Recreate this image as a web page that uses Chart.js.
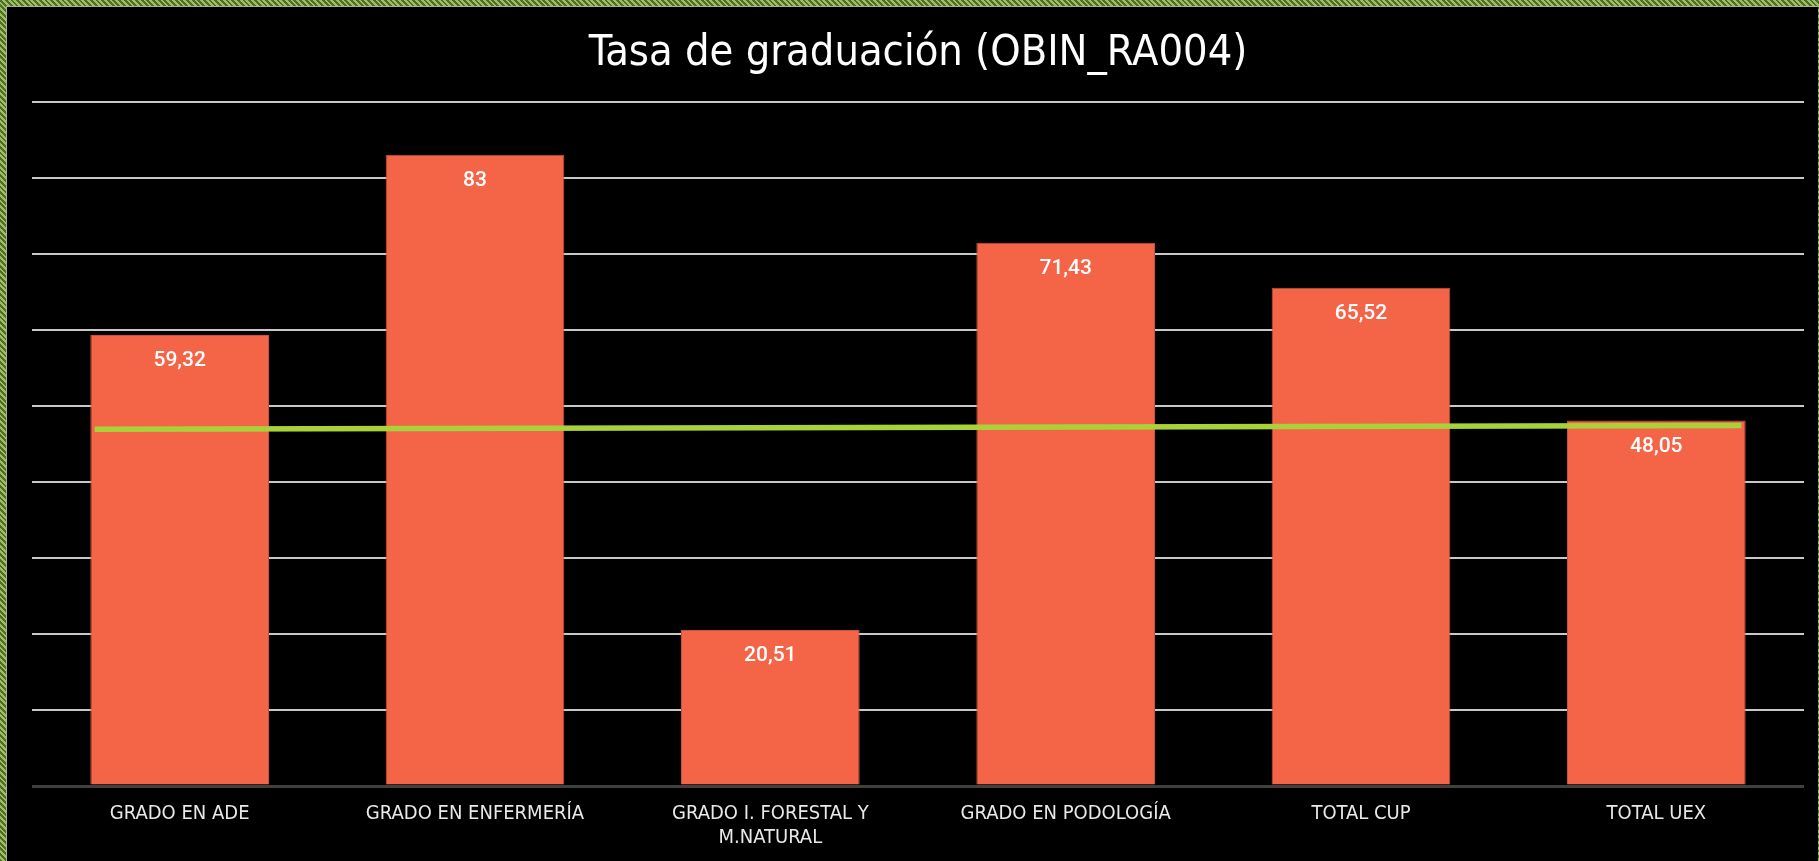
<!DOCTYPE html>
<html>
<head>
<meta charset="utf-8">
<script src="https://cdn.jsdelivr.net/npm/chart.js@4/dist/chart.umd.min.js"></script>
<style>
    html, body { margin: 0; padding: 0; background: #000; overflow: hidden; }
    #frame {
        position: absolute; left: 0; top: 0; width: 1819px; height: 861px;
        background: repeating-linear-gradient(45deg, #4f6e2a 0 2px, #9dbf63 2px 4px);
    }
    #inner {
        position: absolute; left: 6px; top: 6px; width: 1811px; height: 855px; overflow: hidden;
        background: #000; border-left: 1px solid #a8b09a; border-top: 1px solid #a8b09a;
    }
    canvas { display: block; }
</style>
</head>
<body>
<div id="frame"><div id="inner"><canvas id="chart" width="1812" height="859"></canvas></div></div>
<script>
const categories = ['GRADO EN ADE', 'GRADO EN ENFERMERÍA', ['GRADO I. FORESTAL Y', 'M.NATURAL'], 'GRADO EN PODOLOGÍA', 'TOTAL CUP', 'TOTAL UEX'];
const tasaValues = [59.32, 83, 20.51, 71.43, 65.52, 48.05];
const lineValues = [46.9, 47.0, 47.1, 47.2, 47.3, 47.4];
const chartTitle = 'Tasa de graduación (OBIN_RA004)';

const condensed = '"Liberation Sans Narrow", "DejaVu Sans Condensed", "Roboto Condensed", sans-serif';

// draws the value inside the top of each bar, comma decimals
const barLabels = {
    id: 'barLabels',
    afterDatasetsDraw(chart) {
        const ctx = chart.ctx;
        const meta = chart.getDatasetMeta(0);
        ctx.save();
        ctx.fillStyle = '#ffffff';
        ctx.font = '500 21px Roboto, sans-serif';
        ctx.textAlign = 'center';
        ctx.textBaseline = 'middle';
        meta.data.forEach((bar, i) => {
            const txt = String(tasaValues[i]).replace('.', ',');
            ctx.fillText(txt, bar.x, bar.y + 26);
        });
        ctx.restore();
    }
};

new Chart(document.getElementById('chart').getContext('2d'), {
    data: {
        labels: categories,
        datasets: [{
            type: 'bar',
            data: tasaValues,
            backgroundColor: '#F46548',
            borderColor: '#C8543C',
            borderWidth: 1,
            grouped: false,
            categoryPercentage: 1,
            barPercentage: 0.605,
            order: 1
        }, {
            type: 'line',
            data: lineValues.map((v, i) => ({ x: i, y: v })),
            xAxisID: 'x2',
            borderColor: '#A8D13A',
            borderWidth: 5.5,
            pointRadius: 0,
            tension: 0,
            order: 0
        }]
    },
    options: {
        responsive: false,
        animation: false,
        layout: { padding: { left: 25, right: 15, top: 0, bottom: 0 } },
        plugins: {
            legend: { display: false },
            tooltip: { enabled: false },
            title: {
                display: true,
                text: chartTitle,
                color: '#ffffff',
                font: { family: condensed, size: 43, weight: 'normal', lineHeight: 1.2 },
                padding: { top: 21, bottom: 22 }
            }
        },
        scales: {
            x: {
                grid: { display: false, drawTicks: false },
                border: { display: false },
                ticks: {
                    color: '#E8E8E8',
                    padding: 16,
                    maxRotation: 0,
                    autoSkip: false,
                    font: { family: condensed, size: 20, lineHeight: 1.2 }
                }
            },
            x2: {
                type: 'linear',
                display: false,
                min: -0.19,
                max: 5.19
            },
            y: {
                min: 0,
                max: 90,
                ticks: { display: false, stepSize: 10 },
                border: { display: false },
                grid: {
                    drawTicks: false,
                    color: c => c.tick && c.tick.value === 0 ? '#404040' : '#C8C8C8',
                    lineWidth: c => c.tick && c.tick.value === 0 ? 3 : 2
                }
            }
        }
    },
    plugins: [barLabels]
});
</script>
</body>
</html>
